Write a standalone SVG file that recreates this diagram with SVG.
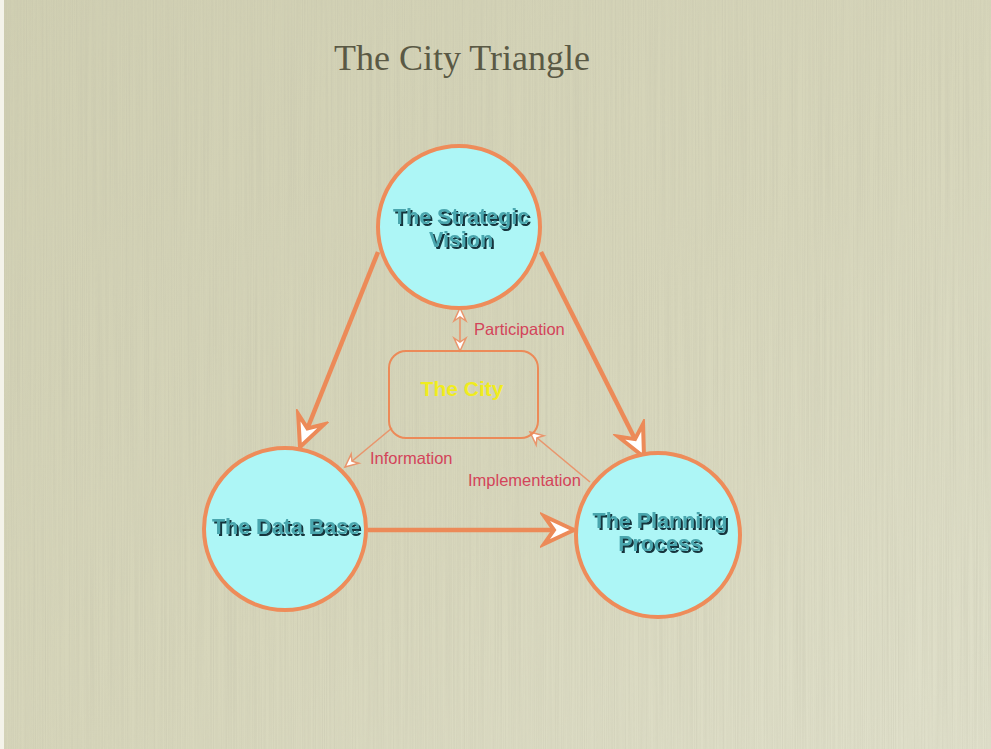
<svg xmlns="http://www.w3.org/2000/svg" width="991" height="749" viewBox="0 0 991 749">
  <defs>
    <linearGradient id="paper" x1="0" y1="0" x2="1" y2="1">
      <stop offset="0" stop-color="#d0cfb2"/>
      <stop offset="0.55" stop-color="#d7d6bb"/>
      <stop offset="1" stop-color="#e0e0cb"/>
    </linearGradient>
    <filter id="grain" x="0" y="0" width="100%" height="100%">
      <feTurbulence type="fractalNoise" baseFrequency="0.9 0.004" numOctaves="2" seed="4" result="n"/>
      <feColorMatrix in="n" type="matrix" values="0 0 0 0 0.5  0 0 0 0 0.49  0 0 0 0 0.38  0 0 0 -1.6 1.05"/>
    </filter>
    <filter id="emboss" x="-10%" y="-30%" width="120%" height="160%">
      <feDropShadow dx="2" dy="2" stdDeviation="0.4" flood-color="#12353c" flood-opacity="1"/>
    </filter>
    <marker id="bigHead" markerUnits="userSpaceOnUse" viewBox="-34 -18 38 36" refX="0" refY="0" markerWidth="38" markerHeight="36" orient="auto">
      <path d="M0,0 L-30,-14 L-20,0 L-30,14 Z" fill="#ffffff" stroke="#ec8a58" stroke-width="4" stroke-linejoin="miter"/>
    </marker>
    <marker id="smallHead" markerUnits="userSpaceOnUse" viewBox="-16 -9 18 18" refX="0" refY="0" markerWidth="18" markerHeight="18" orient="auto-start-reverse">
      <path d="M0,0 L-13,-6 L-9,0 L-13,6 Z" fill="#ffffff" stroke="#e9956c" stroke-width="1.5"/>
    </marker>
    <style>
      .node { fill: #adf6f6; stroke: #ee8c5a; stroke-width: 4; }
      .nlabel { font-family: "Liberation Sans", Arial, sans-serif; font-weight: bold; font-size: 21.5px; text-anchor: middle; fill: #4aa6ae; filter: url(#emboss); }
      .thick { stroke: #ec8a58; stroke-width: 4.5; fill: none; marker-end: url(#bigHead); }
      .thin { stroke: #e9956c; stroke-width: 1.6; fill: none; }
      .elabel { font-family: "Liberation Sans", Arial, sans-serif; font-size: 16.5px; fill: #d3445a; }
    </style>
  </defs>

  <!-- paper background -->
  <rect width="991" height="749" fill="url(#paper)"/>
  <rect width="991" height="749" filter="url(#grain)" opacity="0.35"/>
  <rect x="0" y="0" width="4" height="749" fill="#f4f3ea"/>

  <text x="462" y="70" font-family="'Liberation Serif', 'Times New Roman', serif" font-size="36px" fill="#5a5945" text-anchor="middle">The City Triangle</text>

  <!-- connectors -->
  <g id="connectors">
    <line class="thick" x1="378" y1="252" x2="300" y2="447"/>
    <line class="thick" x1="541" y1="252" x2="644" y2="457"/>
    <line class="thick" x1="368" y1="530" x2="574" y2="530"/>
    <line class="thin" x1="460" y1="308" x2="460" y2="351" marker-start="url(#smallHead)" marker-end="url(#smallHead)"/>
    <line class="thin" x1="392" y1="428" x2="345" y2="467" marker-end="url(#smallHead)"/>
    <line class="thin" x1="590" y1="482" x2="530" y2="432" marker-end="url(#smallHead)"/>
    <text class="elabel" x="474" y="335">Participation</text>
    <text class="elabel" x="370" y="464">Information</text>
    <text class="elabel" x="468" y="486">Implementation</text>
  </g>

  <g id="city">
    <rect x="389" y="351" width="149" height="87" rx="17" fill="none" stroke="#ec8a58" stroke-width="2"/>
    <text x="462" y="396" font-family="'Liberation Sans', Arial, sans-serif" font-weight="bold" font-size="21px" fill="#f0ec1e" text-anchor="middle">The City</text>
  </g>

  <g id="strategic-vision">
    <circle class="node" cx="459" cy="227" r="81"/>
    <text class="nlabel" x="461" y="224">The Strategic</text>
    <text class="nlabel" x="461" y="247">Vision</text>
  </g>

  <g id="data-base">
    <circle class="node" cx="285" cy="529" r="81"/>
    <text class="nlabel" x="286" y="534">The Data Base</text>
  </g>

  <g id="planning-process">
    <circle class="node" cx="658" cy="535" r="82"/>
    <text class="nlabel" x="660" y="528">The Planning</text>
    <text class="nlabel" x="660" y="551">Process</text>
  </g>
</svg>
